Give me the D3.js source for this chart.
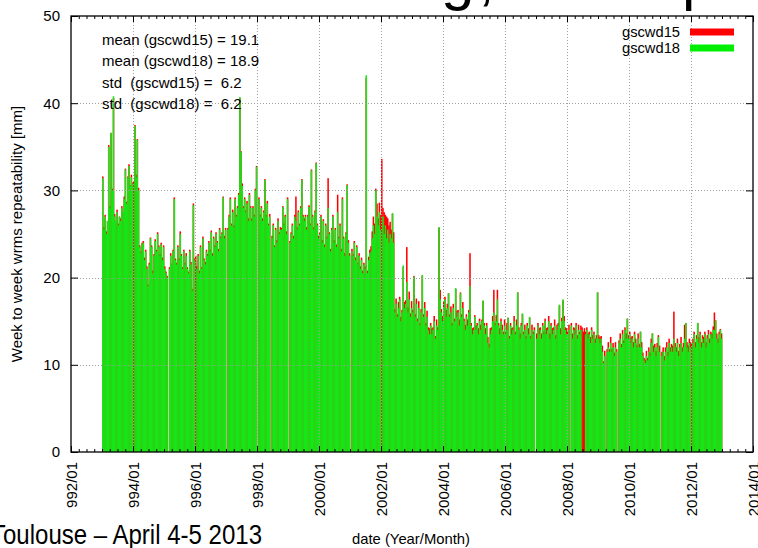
<!DOCTYPE html>
<html>
<head>
<meta charset="utf-8">
<script src="https://cdn.jsdelivr.net/npm/d3@7/dist/d3.min.js"></script>
<style>
  html, body { margin: 0; padding: 0; background: #fff; }
  svg { display: block; }
  text { font-family: "Liberation Sans", Arial, Helvetica, sans-serif; fill: #000; }
</style>
</head>
<body>
<svg id="chart" width="758" height="548"></svg>
<script>
// Weekly wrms repeatability, sampled in two-week bins; one row per year starting 1993
const firstYear = 1993;

const gscwd18 = [
  [31.4, 25.5, 27, 25, 26.5, 35, 28, 36.6, 30, 40.8, 27, 26.5, 27.5, 26, 27, 26.5, 28, 27.5, 29, 32.4, 28.5, 31.5, 32.8, 30.5, 31.5, 30.8],
  [null, 37.4, 31.5, 35.8, 30, 23.5, 22.8, 23.8, 24, 22, 23, 21, 19, 21.5, 24.5, 23.5, 20.5, 22.5, 24.2, 23, 25, 23.5, 22.5, 23.8, 22, 23.5],
  [21, 20.5, 20, null, 21, 22.5, 21.5, 23, 29, 22, 21.5, 23.5, 22, 25, 22.5, 21, 23, 21.5, 22.5, 21, 20.5, 23, 21.5, 18.5, 28.3, 22],
  [null, 21, 22.5, 20.5, 23.5, 21, 24.5, 22, 21.5, 23, 22.5, 24, 23, 25.2, 22.5, 24.5, 23.5, 25, 24, 23, 25.5, 24.5, 25, 29.2, 24.5, 25.5],
  [null, 25.5, 27, 29, 26, 27.5, 25.8, 29, 27, 28, 29.5, 40.7, 34.4, 30.5, 28, 29, 27.5, 28.5, 26.5, 29.5, 28, 26.5, 28, 27, 30, 32.7],
  [null, 29, 27, 28, 26.5, 27.5, 31.2, 27, 28.5, 26, 27, null, 24.5, 26, 23.5, 25.5, 24, 26.5, 25, 25.5, 25.5, 28.1, 26, 27, 25, 29],
  [null, 24, 25, 26, 24.5, 27, 26.5, 25.5, 27.5, 26, 28, 31.2, 27, 26.5, 27, 25.5, 27, 28.1, 26, 32.3, 27, 25.5, 27.5, 33.1, 26, 24.5],
  [25, 27, 24, 26.5, 23.5, 26, 24.5, 28, 25, 23, 25.5, 27, 24, 25.5, 23.5, 27.5, 24.5, 26, 23, 29, 24.5, 22.5, 25, 30.6, 24, 22.5],
  [null, 23, 22.5, 24, 22, 23.5, 21.5, 22.5, 21, 22, 20.5, 21.5, 21, 43.2, 20.5, 22, 22.8, 23, 24.5, 26, 25, 30, 27, 26, 27.5, 25.5],
  [null, 27, 25, 26, 24.5, 25.5, 24, 25, 24.5, 27.4, 24, 16, 17, 15.5, 16.5, 17.5, 15, 16, 21.4, 16.5, 17, 19.5, 16, 17.5, 15.5, 16.5],
  [16, 20.1, 15.5, 17, 15, 16.5, 14.5, 16, 20.3, 15.5, 16.5, 14.5, 15.5, 14, 13.5, 14.5, 13.5, 14, 15, 13, 14.5, 14, 25.8, 17.5, 16, 15],
  [16.5, 17.5, 15.5, 16.5, 18.2, 15.5, 16, 14.5, 16.5, 15, 18.8, 15.5, 16, 14.5, 18.2, 15.5, 16.5, 15, 14, 15.5, 14.5, 16, 19, 14.5, 13.5, 14],
  [15.5, 14, 14.5, 13.5, 15, 14, 15, 17.4, 14.5, 13.5, 14.5, 12.5, 12, 13.5, 14, 15, 16, 14.5, 15, 17.5, 14.5, 13.5, 15, 14, 13.5, 14.5],
  [13.5, 14, 15.4, 13, 14.5, 13.5, 14, 15, 13.5, 14.5, 18.3, 14, 13, 14.5, 15.9, 13.5, 14, 13, 14.5, 13.5, 15.5, 13, 14, 13.5, 14, null],
  [13, 14.5, 13.5, 14, 13, 14.5, 13.5, 15, 13.5, 14, 15, 13, 14.5, 13.5, 14, 14.5, 13, 14, 14.5, 16.9, 13.5, 15, 17.5, 15, 14, 13.5],
  [13.5, 14, null, 14.5, 13, 14, 13.5, 14.5, 13, 14, 13.5, 14, null, null, null, 13.5, 14, 13, 13.5, 12.5, 14, 13, 13.5, 12.5, 13, 18.3],
  [13, 12.5, 13, 11.5, 10.2, 11, null, 11.5, 12, 11.5, 12.5, 11.5, 12, 11, 12, 11.5, null, 12.5, 13, 12, 13.5, 12.5, 14, 13, 15.3, 13],
  [13.5, 12.5, 13, 12, 13.5, 12.5, 12, 13, 12, 13.8, 12, 11, 10.5, 10.2, 11, 10.5, 11.5, 11, 12.5, 13.6, 11.5, 12, 11, 12, 13.2, 11.5],
  [null, 11, 11.5, 10.5, 11.5, 12, 11, 12.5, 11.5, 12, 11.5, 13, 12, 11.5, 12.5, 11, 12, 12.5, 11.5, 12, 13, 14.8, 12, 11.5, 12.5, 12],
  [null, 12.5, 13.5, 12, 13, 14.8, 12.5, 13.5, 12, 13, 12.5, 13.5, 12, 13, 13.5, 12.5, 13.5, 13, 14, 14, 15.1, 13, 12.5, 13.5, 14, 13]
];

const gscwd15 = [
  [31.6, 25.8, 27.2, 25.3, 26.5, 35.2, 28.2, 36.6, 30.2, 40.6, 27.3, 26.5, 27.8, 26.2, 27, 26.8, 28.2, 27.5, 29.3, 32.5, 28.7, 31.6, 33, 30.6, 31.8, 30.9],
  [31, 37.5, 31.8, 35.9, 30.3, 23.7, 23, 24, 24.2, 22.3, 23.2, 21.3, 19.2, 21.7, 24.6, 23.7, 20.8, 22.7, 24.4, 23.2, 25.2, 23.7, 22.7, 24, 22.3, 23.7],
  [21.3, 20.7, 20.2, null, 21.2, 22.8, 21.6, 23.2, 29.2, 22.2, 21.7, 23.7, 22.2, 25.3, 22.7, 21.2, 23.2, 21.7, 22.8, 21.2, 20.7, 23.2, 21.8, 18.7, 28.5, 22.2],
  [22.5, 21.3, 22.7, 20.8, 23.7, 21.2, 24.7, 22.2, 21.8, 23.2, 22.7, 24.2, 23.2, 25.4, 22.8, 24.7, 23.7, 25.2, 24.2, 23.3, 25.7, 24.7, 25.2, 29.3, 24.8, 25.7],
  [null, 25.7, 27.2, 29.2, 26.2, 27.8, 26, 29.2, 27.2, 28.2, 29.7, 40.6, 34.5, 30.8, 28.2, 29.2, 27.7, 28.8, 26.8, 29.7, 28.2, 26.8, 28.2, 27.2, 30.2, 32.8],
  [null, 29.2, 27.2, 28.2, 26.8, 27.7, 31.3, 27.2, 28.8, 26.2, 27.3, null, 24.8, 26.2, 23.7, 25.7, 24.3, 26.8, 25.2, 25.8, 25.7, 28.2, 26.2, 27.2, 25.3, 29.2],
  [null, 24.2, 25.2, 26.2, 24.8, 27.2, 29.3, 25.8, 27.7, 26.2, 28.2, 31.3, 27.2, 26.8, 27.2, 25.8, 27.2, 28.3, 26.2, 32.4, 27.2, 25.8, 27.7, 33.2, 26.2, 24.8],
  [25.2, 27.2, 24.3, 26.7, 23.8, 26.2, 24.7, 31.4, 25.2, 23.3, 25.7, 27.2, 24.3, 25.7, 23.8, 29.5, 24.7, 26.2, 23.3, 29.2, 24.7, 22.8, 25.2, 30.7, 24.3, 22.8],
  [null, 23.3, 22.7, 24.2, 22.3, 23.7, 21.7, 22.8, 21.3, 22.3, 20.8, 21.7, 21.3, 42.9, 20.8, 22.4, 23.2, 23.6, 25.3, 27, 26.2, 30.2, 28.5, 26.8, 28.6, 27.2],
  [33.6, 28, 27.5, 27.2, 27, 26.8, 26, 26.4, 25.5, 27.3, 25.2, 16.4, 17.6, 15.8, 17.2, 17.8, 15.5, 16.3, 21.2, 17.2, 17.4, 23.5, 16.6, 18.4, 15.9, 17.3],
  [16.3, 20.2, 15.8, 17.6, 15.3, 17.3, 14.8, 16.4, 20.2, 15.8, 17.2, 14.8, 16.2, 14.3, 14.2, 14.8, 14.2, 14.3, 15.6, 13.3, 15.2, 14.3, 25.7, 18.6, 16.4, 15.6],
  [17.2, 17.8, 16.3, 17, 18.2, 15.8, 16.7, 14.8, 17, 15.3, 18.7, 16.2, 16.3, 15.2, 18.3, 15.8, 17.2, 15.3, 14.6, 15.8, 15.2, 16.3, 22.8, 14.8, 14.2, 14.3],
  [15.7, 14.5, 14.8, 14.2, 15.3, 14.6, 15.2, 17.3, 14.8, 14.2, 14.8, 13.2, 12.4, 14.2, 14.3, 15.6, 18.6, 14.8, 15.7, 18.6, 14.8, 14.2, 15.3, 14.6, 13.8, 15.2],
  [13.8, 14.8, 15.4, 13.3, 14.8, 14.2, 14.3, 15.6, 13.8, 15.2, 18.3, 14.3, 13.6, 14.8, 15.8, 13.8, 14.6, 13.3, 14.8, 14.2, 15.4, 13.3, 14.6, 13.8, 14.3, null],
  [13.6, 14.8, 14.2, 14.3, 13.6, 14.8, 13.8, 15.3, 14.2, 14.3, 15.6, 13.6, 14.8, 14.2, 14.3, 15.2, 13.4, 14.6, 14.8, 16.8, 14.2, 15.4, 17.4, 15.6, 14.3, 14.2],
  [13.8, 14.6, null, 14.8, 13.6, 14.3, 14.2, 14.8, 13.4, 14.6, 13.8, 14.5, 14.3, 13.8, 14.2, 13.8, 14.3, 13.6, 13.8, 13.2, 14.3, 13.4, 13.8, 13, 13.4, 18.3],
  [13.4, 13.2, 13.3, 12.2, 10.4, 11.6, null, 11.8, 12.6, 11.8, 13.2, 11.8, 12.5, 11.4, 12.6, 11.8, null, 12.8, 13.6, 12.4, 14, 12.8, 14.3, 13.6, 15.3, 13.4],
  [13.8, 13.2, 13.3, 12.6, 13.8, 13, 12.3, 13.6, 12.4, 13.8, 12.6, 11.4, 10.8, 10.6, 11.6, 10.8, 12, 11.4, 13, 13.6, 12.2, 12.4, 11.6, 12.5, 13.4, 12.2],
  [null, 11.5, 12, 11, 12, 12.6, 11.5, 13, 12, 12.4, 12.2, 16.1, 12.5, 12, 13, 11.6, 12.4, 13.2, 12, 12.5, 14.6, 14.8, 12.6, 12.2, 13, 12.6],
  [12.5, 13, 13.8, 12.6, 13.4, 14.8, 13.2, 13.8, 12.6, 13.4, 13.2, 13.8, 12.6, 13.4, 14, 13, 13.8, 13.6, 14.4, 16, 15.1, 13.6, 13, 13.8, 14.1, 13.6]
];

const seriesNames = ["gscwd15", "gscwd18"];
const barColors = ["#ff0000", "#16e616"];
const legendColors = ["#ff0000", "#00ee00"];
const statLines = [
  "mean (gscwd15) = 19.1",
  "mean (gscwd18) = 18.9",
  "std  (gscwd15) =  6.2",
  "std  (gscwd18) =  6.2"
];
const yTicks = [0, 10, 20, 30, 40, 50];
const xTickYears = [1992, 1994, 1996, 1998, 2000, 2002, 2004, 2006, 2008, 2010, 2012, 2014];
const xTickLabels = ["992/01", "994/01", "996/01", "998/01", "2000/01", "2002/01", "2004/01", "2006/01", "2008/01", "2010/01", "2012/01", "2014/01"];
const yLabel = "Week to week wrms repeatability [mm]";
const xLabel = "date (Year/Month)";
const footer = "Toulouse \u2013 April 4-5 2013";

const svg = d3.select("#chart");
const plotLeft = 71, plotRight = 753, plotTop = 16, plotBottom = 452;

const x = d3.scaleLinear().domain([1992, 2014]).range([plotLeft, plotRight]);
const y = d3.scaleLinear().domain([0, 50]).range([plotBottom, plotTop]);

// flatten yearly rows into bins with start/end in decimal years
function toBins(rows) {
  const out = [];
  rows.forEach((row, k) => {
    row.forEach((v, j) => {
      if (v == null) return;
      out.push({ t0: firstYear + k + j / row.length, t1: firstYear + k + (j + 1) / row.length, v });
    });
  });
  return out;
}

// slide title (only its lower edge falls inside this frame)
const titleG = svg.append("g").attr("font-size", 60);
[["g", 441], [",", 478], ["p", 682]].forEach(([s, px]) => {
  titleG.append("text").attr("x", px).attr("y", -1).text(s);
});

// bars: gscwd15 behind, gscwd18 in front
const barG = svg.append("g");
[gscwd15, gscwd18].forEach((rows, si) => {
  barG.append("g")
    .selectAll("rect")
    .data(toBins(rows))
    .join("rect")
    .attr("x", d => x(d.t0))
    .attr("width", d => x(d.t1) - x(d.t0) + 0.35)
    .attr("y", d => y(d.v))
    .attr("height", d => y(0) - y(d.v))
    .attr("fill", barColors[si]);
});

// dotted grid drawn over the bars
const grid = svg.append("g")
  .attr("stroke", "#a0a0a0")
  .attr("stroke-width", 1)
  .attr("stroke-dasharray", "1,2");
grid.selectAll("line.gx")
  .data(xTickYears.slice(1, -1))
  .join("line")
  .attr("class", "gx")
  .attr("x1", d => Math.round(x(d)) + 0.5).attr("x2", d => Math.round(x(d)) + 0.5)
  .attr("y1", plotTop).attr("y2", plotBottom);
grid.selectAll("line.gy")
  .data(yTicks.slice(1, -1))
  .join("line")
  .attr("class", "gy")
  .attr("y1", d => Math.round(y(d)) + 0.5).attr("y2", d => Math.round(y(d)) + 0.5)
  .attr("x1", plotLeft).attr("x2", plotRight);

// inward ticks on all four sides
const minorYears = d3.range(1992, 2014.01, 0.25).filter(v => v % 2 !== 0);
function tickAxis(axis, ty, tx) {
  const g = svg.append("g").attr("transform", `translate(${tx},${ty})`).call(axis);
  g.select(".domain").remove();
  g.selectAll("text").remove();
  g.selectAll("line").attr("stroke", "#000").attr("stroke-width", 1);
  return g;
}
tickAxis(d3.axisBottom(x).tickValues(xTickYears).tickSize(-6), plotBottom, 0);
tickAxis(d3.axisBottom(x).tickValues(minorYears).tickSize(-3), plotBottom, 0);
tickAxis(d3.axisTop(x).tickValues(xTickYears).tickSize(-6), plotTop, 0);
tickAxis(d3.axisTop(x).tickValues(minorYears).tickSize(-3), plotTop, 0);
tickAxis(d3.axisLeft(y).tickValues(yTicks).tickSize(-7), 0, plotLeft);
tickAxis(d3.axisRight(y).tickValues(yTicks).tickSize(-7), 0, plotRight);

// plot frame
svg.append("rect")
  .attr("x", plotLeft).attr("y", plotTop)
  .attr("width", plotRight - plotLeft).attr("height", plotBottom - plotTop)
  .attr("fill", "none").attr("stroke", "#000").attr("stroke-width", 1.3);

// y tick labels
const yAx = svg.append("g").attr("transform", `translate(${plotLeft},0)`)
  .call(d3.axisLeft(y).tickValues(yTicks).tickSize(0).tickPadding(11));
yAx.select(".domain").remove();
yAx.selectAll("text").attr("font-size", 15).attr("font-family", null).attr("fill", "#000");

// x tick labels, rotated
const xAx = svg.append("g").attr("transform", `translate(0,${plotBottom})`)
  .call(d3.axisBottom(x).tickValues(xTickYears).tickSize(0).tickFormat((d, i) => xTickLabels[i]));
xAx.select(".domain").remove();
xAx.selectAll("text")
  .attr("font-size", 15).attr("font-family", null).attr("fill", "#000")
  .attr("text-anchor", "end")
  .attr("transform", "rotate(-90)")
  .attr("x", -10).attr("y", 0).attr("dy", "0.35em");

// axis titles
svg.append("text")
  .attr("transform", `translate(22,${(plotTop + plotBottom) / 2}) rotate(-90)`)
  .attr("text-anchor", "middle")
  .attr("font-size", 15)
  .text(yLabel);
svg.append("text")
  .attr("x", 411).attr("y", 544)
  .attr("text-anchor", "middle")
  .attr("font-size", 15)
  .attr("textLength", 118).attr("lengthAdjust", "spacingAndGlyphs")
  .text(xLabel);

// statistics block
svg.append("g").selectAll("text")
  .data(statLines)
  .join("text")
  .attr("x", 102)
  .attr("y", (d, i) => 45 + i * 21.3)
  .attr("font-size", 15)
  .style("white-space", "pre")
  .text(d => d);

// legend
const leg = svg.append("g");
seriesNames.forEach((name, i) => {
  const cy = 32 + i * 16;
  leg.append("text")
    .attr("x", 680).attr("y", cy + 5)
    .attr("text-anchor", "end")
    .attr("font-size", 14)
    .attr("textLength", 58).attr("lengthAdjust", "spacingAndGlyphs")
    .text(name);
  leg.append("rect")
    .attr("x", 690).attr("y", cy - 3.5)
    .attr("width", 44).attr("height", 7)
    .attr("fill", legendColors[i]);
});

// footer line of the slide
svg.append("text")
  .attr("x", -9).attr("y", 544)
  .attr("font-size", 27)
  .attr("textLength", 271).attr("lengthAdjust", "spacingAndGlyphs")
  .text(footer);
</script>
</body>
</html>
